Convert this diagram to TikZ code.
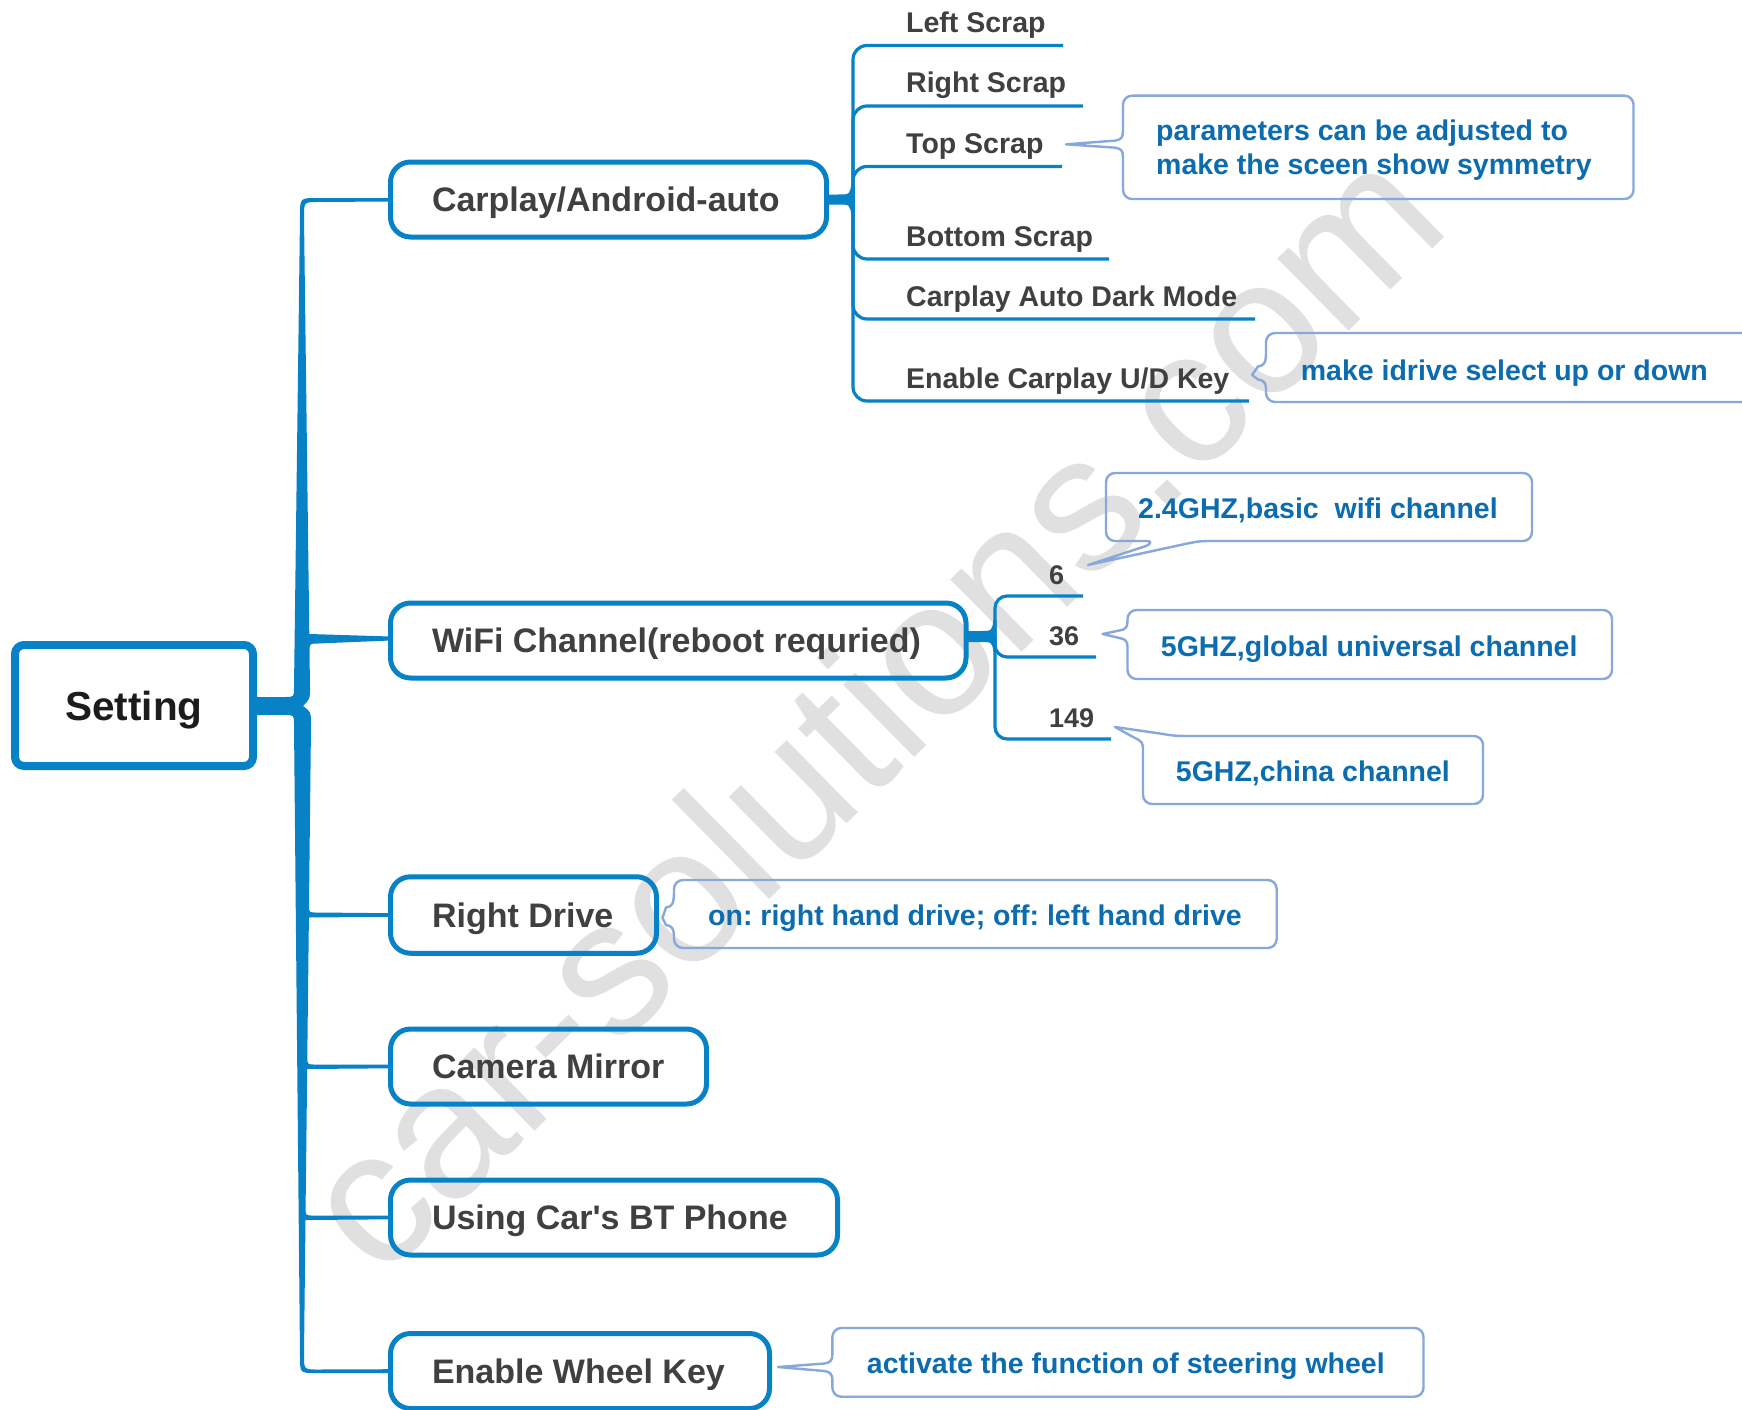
\documentclass[tikz,border=0pt]{standalone}
\usepackage{fontspec}
\setmainfont{Liberation Sans}
\usetikzlibrary{calc}
\frenchspacing
\definecolor{mainblue}{RGB}{8,130,198}
\definecolor{textgray}{RGB}{64,64,64}
\definecolor{rootblack}{RGB}{28,28,28}
\definecolor{cotextc}{RGB}{12,108,176}
\definecolor{coborder}{RGB}{135,168,218}
\definecolor{wmgray}{RGB}{224,224,224}
% callout with a pointer on its left edge: L T R B b1 b2 tipx tipy
\newcommand\callL[8]{%
  \draw[coline,rounded corners=9pt] (#1,#5) -- (#1,#2) -- (#3,#2) -- (#3,#4) -- (#1,#4) -- (#1,#6);
  \draw[coline] (#1,#5) .. controls (#1,{(#5+#8)/2}) and ({#1-2},{(#5+#8)/2+2}) .. ({#1-8},{(#5+#8)/2+3})
     -- (#7,#8) -- ({#1-8},{(#6+#8)/2-3}) .. controls ({#1-2},{(#6+#8)/2-2}) and (#1,{(#6+#8)/2}) .. (#1,#6);
}
\begin{document}
\begin{tikzpicture}[x=1pt,y=-1pt,
  mainbox/.style={draw=mainblue,line width=5pt,rounded corners=20pt,inner xsep=41.5pt,inner ysep=0pt,
    outer sep=0pt,anchor=west,minimum height=75pt,text=textgray,
    font=\bfseries\fontsize{34pt}{40pt}\selectfont,text height=30.4pt,text depth=6pt},
  rootbox/.style={draw=mainblue,line width=8pt,rounded corners=9pt,outer sep=0pt,inner sep=0pt,
    minimum width=238pt,minimum height=121pt,text=rootblack,
    font=\bfseries\fontsize{40.5pt}{46pt}\selectfont,text height=35pt,text depth=6pt},
  subtext/.style={anchor=base west,inner sep=0pt,text=textgray,font=\bfseries\fontsize{28.5pt}{34pt}\selectfont},
  numtext/.style={subtext,font=\bfseries\fontsize{27pt}{32pt}\selectfont},
  cotext/.style={anchor=base west,inner sep=0pt,text=cotextc,font=\bfseries\fontsize{28.5pt}{34pt}\selectfont},
  subline/.style={draw=mainblue,line width=3.2pt,rounded corners=14pt},
  coline/.style={draw=coborder,line width=2.4pt,line join=round,line cap=round}
]
\useasboundingbox (0,0) rectangle (1742,1410);
\fill[white] (0,0) rectangle (1742,1410);

% watermark
\node[rotate=44.5,text=wmgray,font=\fontsize{192pt}{192pt}\selectfont,anchor=base,inner sep=0pt] (wm) at (917,755) {car-solutions.com};

% main nodes
\node[rootbox] (setting) at (134,705.5) {Setting};
\node[mainbox] (carplay) at (390.5,199.5) {\makebox[353pt][l]{Carplay/Android-auto}};
\node[mainbox] (wifi) at (390.5,640.5) {\makebox[492.5pt][l]{WiFi Channel(reboot requried)}};
\node[mainbox,minimum height=76.5pt] (rd) at (390.5,915) {\makebox[183pt][l]{Right Drive}};
\node[mainbox] (cam) at (390.5,1066.5) {\makebox[233pt][l]{Camera Mirror}};
\node[mainbox] (bt) at (390.5,1217.5) {\makebox[364pt][l]{Using Car\textquotesingle s BT Phone}};
\node[mainbox] (wheel) at (390.5,1371) {\makebox[296pt][l]{Enable Wheel Key}};

% trunk: upper part
\fill[mainblue] (253,697) -- (285,697) .. controls (294,697) .. (294,688) -- (300,216)
  .. controls (300,198) .. (317,198) -- ($(carplay.west)+(0,-1.5)$) -- ($(carplay.west)+(0,2)$)
  -- (318,202) .. controls (304,202) .. (304,217) -- (309.3,634)
  -- ($(wifi.west)+(0,-4)$) -- (wifi.west) -- (318,643.5) .. controls (309.5,643.5) .. (309.5,652)
  -- (310,688) .. controls (310,699) .. (303,706) -- (253,706) -- cycle;
% trunk: lower part
\fill[mainblue] (253,706) -- (303,706) .. controls (311,712) .. (311,724)
  -- (309,905) .. controls (308.9,912.5) .. (317,912.5) -- ($(rd.west)+(0,-1.8)$) -- ($(rd.west)+(0,1.8)$) -- (308.9,917.5)
  -- (307.3,1056) .. controls (307.2,1064.5) .. (315,1064.5) -- ($(cam.west)+(0,-1.8)$) -- ($(cam.west)+(0,1.8)$) -- (307.2,1069)
  -- (305.6,1207) .. controls (305.5,1215.5) .. (313,1215.5) -- ($(bt.west)+(0,-1.8)$) -- ($(bt.west)+(0,1.8)$) -- (305.5,1220)
  -- (304,1355) .. controls (304,1369.5) .. (318,1369.5) -- ($(wheel.west)+(0,-1.8)$) -- ($(wheel.west)+(0,2)$)
  -- (316,1373) .. controls (300,1373) .. (300,1357) -- (294,724) .. controls (294,715) .. (285,715) -- (253,715) -- cycle;

% Carplay sub-items
\node[subtext] (ls) at (906,33) {Left Scrap};
\node[subtext] (rs) at (906,93) {Right Scrap};
\node[subtext] (ts) at (906,153.5) {Top Scrap};
\node[subtext] (bs) at (906,246) {Bottom Scrap};
\node[subtext] (dm) at (906,306) {Carplay Auto Dark Mode};
\node[subtext] (ud) at (906,388) {Enable Carplay U/D Key};
\coordinate (ls-u) at (1063,45.5);
\coordinate (rs-u) at (1083,106);
\coordinate (ts-u) at (1062,166.5);
\coordinate (bs-u) at (1109,259);
\coordinate (dm-u) at (1255,319);
\coordinate (ud-u) at (1249,401);
\coordinate (cpJ) at (853,199.5);
\fill[mainblue] ($(carplay.east)+(0,-5)$) -- (838,194.5) .. controls (850,194.5) .. (851.4,183) -- (854.6,183)
  -- (854.6,216) -- (851.4,216) .. controls (850,204.5) .. (838,204.5) -- ($(carplay.east)+(0,5)$) -- cycle;
\foreach \e in {ls-u,rs-u,ts-u,bs-u,dm-u,ud-u} \draw[subline] (cpJ) |- (\e);

% WiFi sub-items
\node[numtext] (n6) at (1049,584) {6};
\node[numtext] (n36) at (1049,645) {36};
\node[numtext] (n149) at (1049,727) {149};
\coordinate (n6-u) at (1083,596);
\coordinate (n36-u) at (1096,657);
\coordinate (n149-u) at (1111,739);
\coordinate (wfJ) at (995,636.5);
\fill[mainblue] ($(wifi.east)+(0,-9.5)$) -- (980,631) .. controls (992,631) .. (993.4,620) -- (996.6,620)
  -- (996.6,652) -- (993.4,652) .. controls (992,642) .. (980,642) -- ($(wifi.east)+(0,1.5)$) -- cycle;
\foreach \e in {n6-u,n36-u,n149-u} \draw[subline,rounded corners=12pt] (wfJ) |- (\e);

% callouts
\callL{1123}{95.7}{1633.5}{199}{131}{157}{1066}{144.3}
\node[cotext] (p1) at (1156,140) {parameters can be adjusted to};
\node[cotext] (p2) at (1156,175) {make the sceen show symmetry};

\callL{1266}{333}{1775}{402}{352}{390}{1252}{375}
\node[cotext] (idr) at (1300.6,380) {make idrive select up or down};

\draw[coline,rounded corners=9pt] (1147,541) -- (1106,541) -- (1106,473) -- (1532,473) -- (1532,541) -- (1217,541);
\draw[coline] (1147,541) .. controls (1151,541) and (1152,543) .. (1146,546) -- (1088,565)
  -- (1185,544) .. controls (1200,541) .. (1217,541);
\node[cotext] (g24) at (1138,518) {2.4GHZ,basic~ wifi channel};

\callL{1127.5}{610}{1612}{679}{621}{648}{1102.5}{634}
\node[cotext] (g5) at (1160.7,656) {5GHZ,global universal channel};

\draw[coline,rounded corners=9pt] (1197,736) -- (1483,736) -- (1483,804) -- (1143,804) -- (1143,752);
\draw[coline] (1197,736) .. controls (1175,736) .. (1160,733.5) -- (1115,727) -- (1133,737)
  .. controls (1143,742) .. (1143,752);
\node[cotext] (cn) at (1175.7,781.7) {5GHZ,china channel};

\callL{674}{880}{1276.7}{948}{891}{938}{662.4}{918}
\node[cotext] (rdn) at (708,925) {on: right hand drive; off: left hand drive};

\callL{832.4}{1328}{1423.5}{1396.7}{1354}{1381}{778}{1367}
\node[cotext] (wkn) at (866.7,1373) {activate the function of steering wheel};
\end{tikzpicture}
\end{document}
